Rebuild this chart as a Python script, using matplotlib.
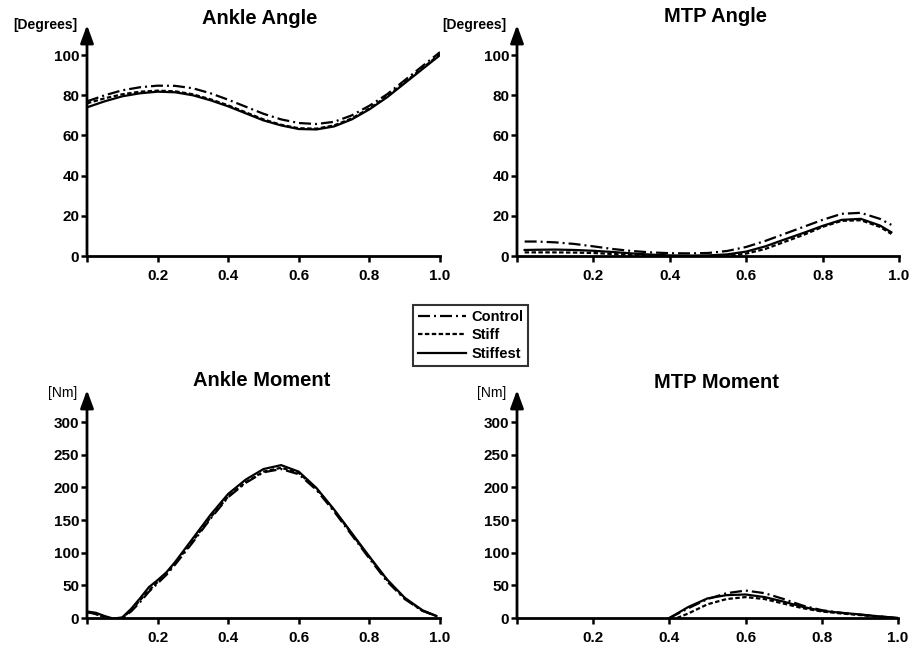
import matplotlib
matplotlib.use("Agg")
import matplotlib.pyplot as plt
from matplotlib.lines import Line2D

plt.rcParams['font.family'] = ['Liberation Sans', 'DejaVu Sans']

# ---------------- data ----------------
series_names = ["Control", "Stiff", "Stiffest"]

# Ankle angle [deg]
aa_x = [0.0, 0.05, 0.1, 0.15, 0.2, 0.25, 0.3, 0.35, 0.4, 0.45, 0.5,
        0.55, 0.6, 0.65, 0.7, 0.75, 0.8, 0.85, 0.9, 0.95, 1.0]
aa_control = [77, 80, 82.5, 84, 84.8, 84.7, 83.5, 81, 77.8, 74.3, 70.8,
              68, 66.2, 65.7, 66.8, 70, 74.8, 80.5, 87.5, 94.5, 101.5]
aa_stiff = [76, 78.5, 80.5, 81.8, 82.3, 82, 80.5, 78, 75, 71.5, 68,
            65.3, 63.6, 63.4, 65, 68.5, 73.5, 79.5, 86.5, 93.5, 100.5]
aa_stiffest = [74, 77, 79.5, 81, 81.8, 81.5, 80, 77.5, 74.5, 71, 67.5,
               65, 63.2, 63, 64.5, 68, 73, 79, 86, 93, 100]

# MTP angle [deg]
ma_x = [0.02, 0.05, 0.1, 0.15, 0.2, 0.25, 0.3, 0.35, 0.4, 0.45, 0.5,
        0.55, 0.6, 0.65, 0.7, 0.75, 0.8, 0.85, 0.9, 0.95, 0.98]
ma_control = [7.2, 7.2, 6.8, 6, 4.8, 3.5, 2.5, 1.8, 1.4, 1.3, 1.5,
              2.5, 4.5, 7.5, 11, 14.5, 18, 21, 21.5, 18.5, 15.5]
ma_stiff = [1.8, 1.8, 1.8, 1.7, 1.5, 1.0, 0.5, 0.2, 0, -0.3, -0.3,
            0, 1.2, 3.5, 7, 10.5, 14.5, 17.5, 17.8, 14.5, 11]
ma_stiffest = [3, 3.1, 3.2, 3, 2.6, 2, 1.3, 0.7, 0.3, 0.2, 0.3,
               0.8, 2.2, 4.8, 8.2, 11.5, 15, 18, 18.5, 15.2, 11.8]

# Ankle moment [Nm]
am_x = [0.0, 0.025, 0.05, 0.075, 0.1, 0.125, 0.15, 0.175, 0.2, 0.225, 0.25,
        0.3, 0.35, 0.4, 0.45, 0.5, 0.55, 0.6, 0.65, 0.7, 0.75, 0.8, 0.85,
        0.9, 0.95, 0.99]
am_control = [9, 6, 2, -2, 0, 10, 24, 40, 53, 66, 82,
              116, 152, 185, 207, 223, 228, 220, 196, 163, 127, 91, 56,
              29, 11, 3]
am_stiff = [9, 6, 1, -3, 0, 12, 27, 42, 55, 68, 84,
            118, 154, 186, 208, 224, 230, 222, 198, 165, 129, 93, 58,
            30, 11, 3]
am_stiffest = [10, 8, 3, -1, 1, 14, 30, 47, 58, 70, 86,
               122, 158, 190, 212, 228, 234, 224, 199, 166, 130, 94, 59,
               31, 12, 3]

# MTP moment [Nm]
mm_x = [0.4, 0.45, 0.5, 0.55, 0.6, 0.65, 0.7, 0.75, 0.8, 0.85, 0.9, 0.95, 1.0]
mm_x_stiff = [0.42, 0.45, 0.5, 0.55, 0.6, 0.65, 0.7, 0.75, 0.8, 0.85, 0.9, 0.95, 1.0]
mm_control = [0, 15, 29, 38, 42, 38, 29, 19, 12, 8, 5, 2.5, 0]
mm_stiff = [0, 7, 21, 29, 32, 29, 22, 15, 10, 7, 4.5, 2, 0]
mm_stiffest = [0, 17, 30, 35, 36, 32, 25, 17, 11, 8, 5.5, 2.5, 0]

x_ticks = [0, 0.2, 0.4, 0.6, 0.8, 1.0]
x_ticklabels = ["", "0.2", "0.4", "0.6", "0.8", "1.0"]
deg_ticks = [0, 20, 40, 60, 80, 100]
nm_ticks = [0, 50, 100, 150, 200, 250, 300]

# ---------------- style ----------------
W, H = 909, 646
fig = plt.figure(figsize=(W / 100, H / 100), dpi=100)

LW = 1.6
styles = {
    "Control": dict(color="black", lw=LW, linestyle=(0, (5.4, 1.8, 0.9, 1.8))),
    "Stiff": dict(color="black", lw=LW, linestyle=(0, (2.0, 1.1))),
    "Stiffest": dict(color="black", lw=LW, linestyle="-"),
}


def make_ax(left_px, right_px, zero_px, top_px):
    return fig.add_axes([left_px / W, 1 - zero_px / H,
                         (right_px - left_px) / W, (zero_px - top_px) / H])


def style_ax(ax, ymax, yticks, title, ylabel, ylabel_weight, title_x, title_y, ylab_y, ylab_right_px):
    ax.set_xlim(0, 1.0)
    ax.set_ylim(0, ymax)
    for s in ["top", "right", "left"]:
        ax.spines[s].set_visible(False)
    ax.spines["bottom"].set_linewidth(2.0)
    ax.set_xticks(x_ticks)
    ax.set_xticklabels(x_ticklabels)
    ax.set_yticks(yticks)
    ax.tick_params(axis="both", direction="out", length=4, width=1.8, labelsize=11)
    ax.tick_params(axis="x", pad=5)
    ax.tick_params(axis="y", pad=1.5)
    for lab in ax.get_xticklabels() + ax.get_yticklabels():
        lab.set_fontweight("bold")
    ax.annotate("", xy=(0, 1), xycoords="axes fraction", xytext=(0, 0),
                textcoords="axes fraction",
                arrowprops=dict(arrowstyle="-|>,head_length=0.6,head_width=0.22",
                                lw=2.0, color="black", shrinkA=0, shrinkB=0,
                                mutation_scale=18))
    ax.patch.set_visible(False)
    fig.text(title_x / W, 1 - title_y / H, title, ha="center", va="center",
             fontsize=14.5, fontweight="bold")
    fig.text(ylab_right_px / W, 1 - ylab_y / H, ylabel, ha="right", va="center",
             fontsize=10, fontweight=ylabel_weight)


# Ankle angle
ax1 = make_ax(87, 440, 256, 25)
ax1.plot(aa_x, aa_control, **styles["Control"])
ax1.plot(aa_x, aa_stiff, **styles["Stiff"])
ax1.plot(aa_x, aa_stiffest, **styles["Stiffest"])
style_ax(ax1, 115, deg_ticks, "Ankle Angle", "[Degrees]", "bold", 260, 18, 25, 77)

# MTP angle
ax2 = make_ax(517, 899, 256, 25)
ax2.plot(ma_x, ma_control, **styles["Control"])
ax2.plot(ma_x, ma_stiff, **styles["Stiff"])
ax2.plot(ma_x, ma_stiffest, **styles["Stiffest"])
style_ax(ax2, 115, deg_ticks, "MTP Angle", "[Degrees]", "bold", 716, 17, 25, 506)

# Ankle moment
ax3 = make_ax(87, 440, 618, 390)
ax3.plot(am_x, am_control, **styles["Control"])
ax3.plot(am_x, am_stiff, **styles["Stiff"])
ax3.plot(am_x, am_stiffest, **styles["Stiffest"])
style_ax(ax3, 349, nm_ticks, "Ankle Moment", "[Nm]", "normal", 262, 381, 393, 77)

# MTP moment
ax4 = make_ax(517, 898, 618, 390)
ax4.plot(mm_x, mm_control, **styles["Control"])
ax4.plot(mm_x_stiff, mm_stiff, **styles["Stiff"])
ax4.plot(mm_x, mm_stiffest, **styles["Stiffest"])
style_ax(ax4, 349, nm_ticks, "MTP Moment", "[Nm]", "normal", 716, 382, 393, 506)

# Legend
handles = [Line2D([0], [0], **styles[n]) for n in series_names]
leg = fig.legend(handles, series_names, loc="upper left",
                 bbox_to_anchor=(413 / W, 1 - 305 / H), borderaxespad=0,
                 prop=dict(size=10.5, weight="bold"),
                 handlelength=3.3, handletextpad=0.35,
                 labelspacing=0.3, borderpad=0.35, frameon=True, fancybox=False)
leg.get_frame().set_edgecolor("black")
leg.get_frame().set_linewidth(1.5)

fig.savefig("out.png", dpi=100)
